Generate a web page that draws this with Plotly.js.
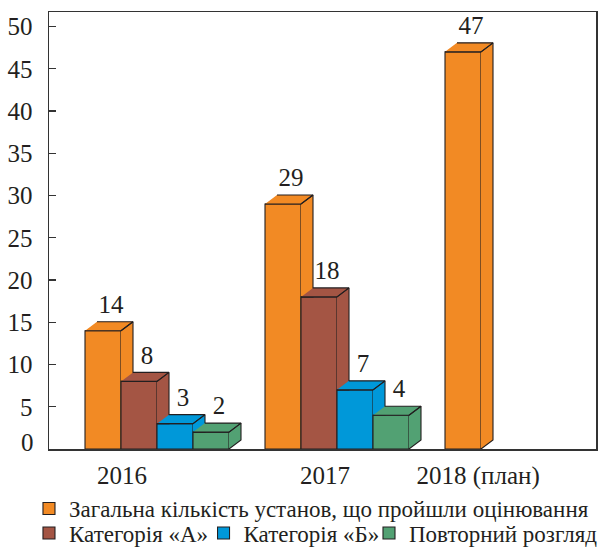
<!DOCTYPE html>
<html><head><meta charset="utf-8">
<script src="https://cdn.plot.ly/plotly-3.0.1.min.js"></script>
<style>html,body{margin:0;padding:0;background:#fff}</style>
</head><body><div id="chart" style="width:599px;height:547px"></div>
<script>
// ---- data ----
const categories = ['2016', '2017', '2018 (план)'];
const seriesNames = ['Загальна кількість установ, що пройшли оцінювання', 'Категорія «А»', 'Категорія «Б»', 'Повторний розгляд'];
const totalValues = [14, 29, 47];
const catAValues = [8, 18, null];
const catBValues = [3, 7, null];
const reviewValues = [2, 4, null];
const yTickValues = [5, 10, 15, 20, 25, 30, 35, 40, 45, 50];
const yZeroLabel = '0';

// ---- styling / geometry ----
const seriesValues = [totalValues, catAValues, catBValues, reviewValues];
const colors = ['#F28A24', '#A45544', '#0098D9', '#52A173'];
const legendIds = ['legend', 'legend2', 'legend3', 'legend4'];
const legendPos = [[-0.0366, -0.087], [-0.0366, -0.143], [0.2825, -0.143], [0.585, -0.143]];
const edge = '#231F20';
const W = 599, H = 547, M = {l: 49, r: 3, t: 12, b: 98, autoexpand: false};
const plotW = W - M.l - M.r, plotH = H - M.t - M.b;
const pxPerX = 36, pxPerY = 8.45;
const xMax = plotW / pxPerX, yMax = plotH / pxPerY;
const dx = 12 / pxPerX, dy = 9 / pxPerY;
const groupStride = 5;
const catLabelPos = [2.03, 7.67, 11.92];
const FONT = 'Liberation Serif';
const NUM_SIZE = 25, LEG_SIZE = 23;

function slotCenter(g, s) { return g * groupStride + 1 + s + 0.5; }

const traces = [];
seriesValues.forEach((vals, s) => {
  const xs = [], ys = [];
  vals.forEach((v, g) => { if (v != null) { xs.push(slotCenter(g, s)); ys.push(v); } });
  traces.push({
    type: 'bar', name: seriesNames[s], x: xs, y: ys, width: 1,
    legend: legendIds[s],
    marker: {color: colors[s], line: {color: edge, width: 1.1}},
    hoverinfo: 'x+y'
  });
});
seriesValues.forEach((vals, s) => {
  const px = [], py = [];
  const add = pts => { pts.forEach(p => { px.push(p[0]); py.push(p[1]); }); px.push(null); py.push(null); };
  vals.forEach((v, g) => {
    if (v == null) return;
    const c = slotCenter(g, s), xl = c - 0.5, xr = c + 0.5;
    const nextVals = seriesValues[s + 1];
    const lower = nextVals && nextVals[g] != null ? nextVals[g] : 0;
    if (lower <= 0) {
      add([[xr, 0], [xr + dx, dy], [xr + dx, v + dy], [xr, v]]);
    } else if (lower < v) {
      add([[xr, lower], [xr + dx, Math.max(lower, dy)], [xr + dx, v + dy], [xr, v]]);
    } else if (lower < v + dy) {
      add([[xr + dx * (lower - v) / dy, lower], [xr + dx, lower], [xr + dx, v + dy]]);
    }
    add([[xl, v], [xr, v], [xr + dx, v + dy], [xl + dx, v + dy]]);
  });
  traces.push({
    type: 'scatter', mode: 'lines', x: px, y: py, fill: 'toself',
    fillcolor: colors[s], line: {color: edge, width: 1.1},
    showlegend: false, hoverinfo: 'skip'
  });
});
const lx = [], ly = [], lt = [];
seriesValues.forEach((vals, s) => vals.forEach((v, g) => {
  if (v == null) return;
  lx.push(slotCenter(g, s) + 8 / pxPerX);
  ly.push(v + 24 / pxPerY);
  lt.push(String(v));
}));
traces.push({
  type: 'scatter', mode: 'text', x: lx, y: ly, text: lt,
  textposition: 'middle center', cliponaxis: false,
  textfont: {family: FONT, size: NUM_SIZE, color: edge},
  showlegend: false, hoverinfo: 'skip'
});

const layout = {
  width: W, height: H, margin: M,
  paper_bgcolor: '#fff', plot_bgcolor: '#fff',
  barmode: 'overlay', showlegend: true,
  font: {family: FONT, color: edge},
  xaxis: {
    range: [0, xMax], tickvals: catLabelPos, ticktext: categories,
    ticks: '', showgrid: false, zeroline: false, fixedrange: true,
    showline: true, mirror: true, linecolor: '#333', linewidth: 1.5,
    ticklabelstandoff: 3,
    tickfont: {family: FONT, size: NUM_SIZE, color: edge}
  },
  yaxis: {
    range: [0, yMax], tickvals: yTickValues, ticks: 'inside', ticklen: 7,
    tickcolor: '#333', tickwidth: 1.2, showgrid: false, zeroline: false,
    showline: true, mirror: true, linecolor: '#333', linewidth: 1.5,
    ticklabelstandoff: 10,
    tickfont: {family: FONT, size: NUM_SIZE, color: edge}, fixedrange: true
  },
  annotations: [{
    xref: 'paper', yref: 'y', x: 0, y: 0, text: yZeroLabel, showarrow: false,
    xanchor: 'right', yanchor: 'middle', xshift: -13, yshift: 7,
    font: {family: FONT, size: NUM_SIZE, color: edge}
  }]
};
legendIds.forEach((id, i) => {
  layout[id] = {
    orientation: 'h', xanchor: 'left', yanchor: 'top',
    x: legendPos[i][0], y: legendPos[i][1],
    font: {family: FONT, size: LEG_SIZE, color: edge}, bgcolor: 'rgba(0,0,0,0)',
    borderwidth: 0
  };
});
Plotly.newPlot('chart', traces, layout, {displayModeBar: false, staticPlot: true});
</script></body></html>
